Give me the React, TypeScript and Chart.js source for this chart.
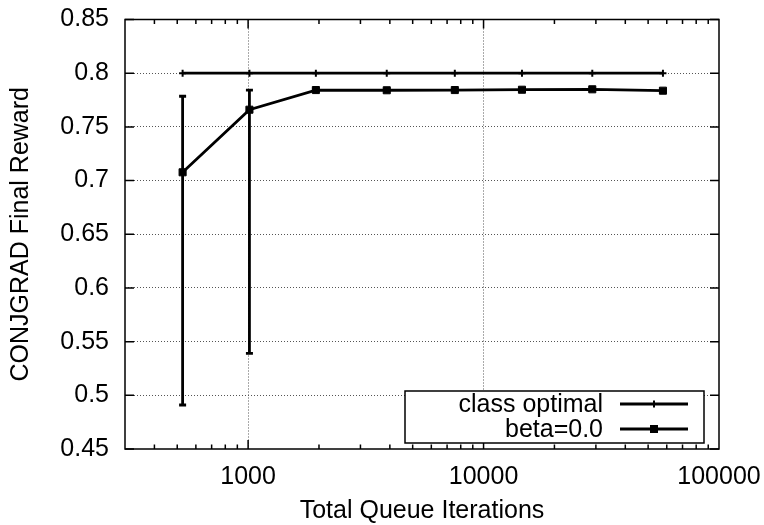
import React, { useEffect, useRef } from 'react';
import { Chart, registerables } from 'chart.js';

Chart.register(...registerables);

// ---- data ----
const iterations = [527, 1013, 1940, 3880, 7550, 14560, 28960, 57800];
const classOptimal = [0.8, 0.8, 0.8, 0.8, 0.8, 0.8, 0.8, 0.8];
const beta = [0.7077, 0.766, 0.7843, 0.7841, 0.7843, 0.7846, 0.785, 0.7837];
const betaLow = [0.491, 0.539, 0.7835, 0.7833, 0.7835, 0.7838, 0.7842, 0.7829];
const betaHigh = [0.7785, 0.7843, 0.7851, 0.7849, 0.7851, 0.7854, 0.7858, 0.7845];
const seriesLabels = ['class optimal', 'beta=0.0'];
const xTickValues = [1000, 10000, 100000];
const xRange = [300, 100000];
const yRange = [0.45, 0.85];
const yStep = 0.05;
const xTitle = 'Total Queue Iterations';
const yTitle = 'CONJGRAD Final Reward';

const FONT = '"Liberation Sans", Arial, Helvetica, sans-serif';
const FS = 25;

const decorPlugin = {
  id: 'gnuplotDecor',
  afterDatasetsDraw(chart: any) {
    const { ctx } = chart;
    const xs = chart.scales.x;
    const ys = chart.scales.y;
    ctx.save();
    ctx.strokeStyle = '#000';
    ctx.lineWidth = 2.8;
    for (let i = 0; i < iterations.length; i++) {
      const px = xs.getPixelForValue(iterations[i]);
      const pl = ys.getPixelForValue(betaLow[i]);
      const ph = ys.getPixelForValue(betaHigh[i]);
      ctx.beginPath();
      ctx.moveTo(px, pl);
      ctx.lineTo(px, ph);
      ctx.moveTo(px - 3.5, pl);
      ctx.lineTo(px + 3.5, pl);
      ctx.moveTo(px - 3.5, ph);
      ctx.lineTo(px + 3.5, ph);
      ctx.stroke();
    }
    ctx.restore();
  },
  afterDraw(chart: any) {
    const { ctx, chartArea: a } = chart;
    const xs = chart.scales.x;
    const ys = chart.scales.y;
    ctx.save();
    ctx.strokeStyle = '#000';
    ctx.lineWidth = 1.5;
    // ticks
    ctx.beginPath();
    for (let d = 100; d <= xRange[1]; d *= 10) {
      for (let m = 1; m <= 9; m++) {
        const v = m * d;
        if (v <= xRange[0] || v >= xRange[1]) continue;
        const px = xs.getPixelForValue(v);
        const len = m === 1 ? 9 : 4.5;
        ctx.moveTo(px, a.bottom);
        ctx.lineTo(px, a.bottom - len);
        ctx.moveTo(px, a.top);
        ctx.lineTo(px, a.top + len);
      }
    }
    for (let v = yRange[0]; v <= yRange[1] + 1e-9; v += yStep) {
      const py = ys.getPixelForValue(v);
      ctx.moveTo(a.left, py);
      ctx.lineTo(a.left + 9, py);
      ctx.moveTo(a.right, py);
      ctx.lineTo(a.right - 9, py);
    }
    ctx.stroke();
    // border
    ctx.strokeRect(a.left, a.top, a.right - a.left, a.bottom - a.top);

    // legend
    const bw = 299;
    const bh = 52;
    const bx = a.right - 15 - bw;
    const by = a.bottom - 6 - bh;
    ctx.fillStyle = '#fff';
    ctx.fillRect(bx, by, bw, bh);
    ctx.lineWidth = 1.5;
    ctx.strokeRect(bx, by, bw, bh);
    ctx.font = `${FS}px ${FONT}`;
    ctx.fillStyle = '#000';
    ctx.textAlign = 'right';
    ctx.textBaseline = 'middle';
    const rows = [by + 13, by + 38];
    chart.data.datasets.forEach((ds: any, i: number) => {
      const ry = rows[i];
      ctx.fillText(ds.label, bx + 198, ry + 1);
      ctx.lineWidth = 2.8;
      ctx.beginPath();
      ctx.moveTo(bx + 215, ry);
      ctx.lineTo(bx + 283, ry);
      ctx.stroke();
      const cx = bx + 249;
      if (i === 0) {
        ctx.lineWidth = 2;
        ctx.beginPath();
        ctx.moveTo(cx, ry - 3.5);
        ctx.lineTo(cx, ry + 3.5);
        ctx.stroke();
      } else {
        ctx.fillRect(cx - 4, ry - 4, 8, 8);
      }
    });
    ctx.restore();
  },
};

export default function App() {
  const ref = useRef<HTMLCanvasElement | null>(null);
  useEffect(() => {
    document.body.style.margin = '0';
    const canvas = ref.current;
    if (!canvas) return;
    const chart = new Chart(canvas, {
      type: 'line',
      data: {
        datasets: [
          {
            label: seriesLabels[0],
            data: iterations.map((x, i) => ({ x, y: classOptimal[i] })),
            borderColor: '#000',
            backgroundColor: '#000',
            borderWidth: 2.8,
            pointStyle: 'cross',
            pointRadius: 3.5,
            pointBorderWidth: 2,
            pointBorderColor: '#000',
            tension: 0,
          },
          {
            label: seriesLabels[1],
            data: iterations.map((x, i) => ({ x, y: beta[i] })),
            borderColor: '#000',
            backgroundColor: '#000',
            borderWidth: 2.8,
            pointStyle: 'rect',
            pointRadius: 5,
            pointBorderWidth: 1,
            pointBorderColor: '#000',
            pointBackgroundColor: '#000',
            tension: 0,
          },
        ],
      },
      options: {
        responsive: false,
        animation: false,
        devicePixelRatio: 1,
        layout: { padding: { top: 19.5, right: 45, bottom: 0, left: 0 } },
        plugins: {
          legend: { display: false },
          tooltip: { enabled: false },
        },
        scales: {
          x: {
            type: 'logarithmic',
            min: xRange[0],
            max: xRange[1],
            afterBuildTicks: (s: any) => {
              s.ticks = xTickValues.map((v) => ({ value: v }));
            },
            afterFit: (s: any) => {
              s.height = 76;
              s.paddingLeft = 0;
              s.paddingRight = 0;
            },
            ticks: {
              autoSkip: false,
              maxRotation: 0,
              padding: 13,
              color: '#000',
              font: { family: FONT, size: FS },
              callback: (v: any) => String(v),
            },
            grid: {
              drawTicks: false,
              color: (c: any) => (c.tick && c.tick.value < xRange[1] ? '#555' : 'rgba(0,0,0,0)'),
              lineWidth: 1,
            },
            border: { display: false, dash: [1, 2] },
            title: {
              display: true,
              text: xTitle,
              color: '#000',
              font: { family: FONT, size: FS },
              padding: { top: 0, bottom: -1 },
            },
          },
          y: {
            type: 'linear',
            min: yRange[0],
            max: yRange[1],
            ticks: {
              stepSize: yStep,
              padding: 16,
              color: '#000',
              font: { family: FONT, size: FS },
              callback: (v: any) => String(Number(Number(v).toFixed(2))),
            },
            afterFit: (s: any) => {
              s.width = 125;
              s.paddingTop = 0;
              s.paddingBottom = 0;
            },
            grid: {
              drawTicks: false,
              color: (c: any) =>
                c.tick && c.tick.value > yRange[0] + 1e-6 && c.tick.value < yRange[1] - 1e-6
                  ? '#555'
                  : 'rgba(0,0,0,0)',
              lineWidth: 1,
            },
            border: { display: false, dash: [1, 2] },
            title: {
              display: true,
              text: yTitle,
              color: '#000',
              font: { family: FONT, size: FS },
              padding: { top: 6, bottom: 0 },
            },
          },
        },
      },
      plugins: [decorPlugin],
    });
    return () => chart.destroy();
  }, []);
  return (
    <div style={{ width: 764, height: 525 }}>
      <canvas ref={ref} width={764} height={525} style={{ display: 'block' }} />
    </div>
  );
}
